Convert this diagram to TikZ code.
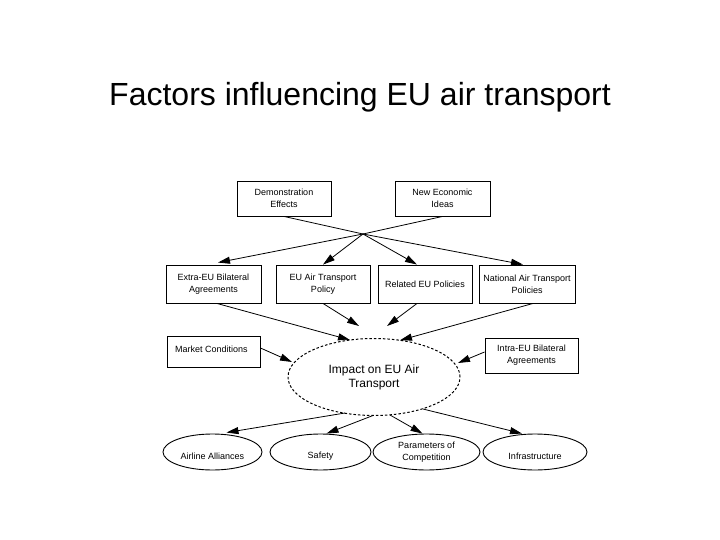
\documentclass[tikz,border=0pt]{standalone}
\usepackage{fontspec}
\setmainfont{Liberation Sans}
\usetikzlibrary{arrows.meta,shapes.geometric,calc}
\newcommand{\lowtxt}[1]{\raisebox{-4pt}[\height][\depth]{#1}}
\begin{document}
\begin{tikzpicture}[x=1pt,y=-1pt,
  box/.style={draw,line width=0.9pt,rectangle,inner sep=1pt,align=center,font=\fontsize{9}{12}\selectfont},
  oval/.style={draw,line width=0.9pt,ellipse,inner sep=0pt,align=center,font=\fontsize{9}{12}\selectfont},
  arr/.style={line width=0.8pt,-{Triangle[length=12pt,width=7pt]}},
  ln/.style={line width=0.8pt}]
\useasboundingbox (0,0) rectangle (720,540);
\node[font=\fontsize{32}{36}\selectfont,anchor=base] (title) at (360,106) {Factors influencing EU air transport};
% top boxes
\node[box,minimum width=94pt,minimum height=35pt] (demo) at (284,198.5) {Demonstration\\Effects};
\node[box,minimum width=95pt,minimum height=35pt] (neweco) at (442.5,198.5) {New Economic\\Ideas};
\coordinate (cross) at (363,234);
% second row
\node[box,minimum width=95pt,minimum height=38pt] (extra) at (213.5,284) {Extra-EU Bilateral\\Agreements};
\node[box,minimum width=94pt,minimum height=38pt] (euatp) at (323,284) {EU Air Transport\\Policy\vphantom{g}};
\node[box,minimum width=94pt,minimum height=38pt] (related) at (425,284) {Related EU Policies};
\node[box,minimum width=96pt,minimum height=38pt] (national) at (527,284) {National Air Transport\\Policies};
% side boxes
\node[box,minimum width=93pt,minimum height=31pt] (market) at (213.5,351.5) {};
\node[font=\fontsize{9}{12}\selectfont,anchor=west,inner sep=0pt] (markettxt) at (175,349) {Market Conditions};
\node[box,minimum width=93pt,minimum height=35pt] (intra) at (531.5,355.5) {Intra-EU Bilateral\\Agreements};
% central ellipse
\node[draw,ellipse,line width=1pt,dash pattern=on 2.5pt off 2pt,minimum width=172pt,minimum height=77pt,inner sep=0pt,align=center,font=\fontsize{12}{14}\selectfont] (impact) at (374,377) {Impact on EU Air\\Transport};
% bottom ellipses
\node[oval,minimum width=99pt,minimum height=36pt] (alliances) at (212.5,452) {\lowtxt{Airline Alliances}};
\node[oval,minimum width=101pt,minimum height=36pt] (safety) at (320.5,452) {\lowtxt{Safety}};
\node[oval,minimum width=107pt,minimum height=36pt] (params) at (426.5,452) {Parameters of\\Competition};
\node[oval,minimum width=104pt,minimum height=36pt] (infra) at (535,452) {\lowtxt{Infrastructure}};
% top connectors
\draw[ln] (demo.south) -- (cross);
\draw[ln] (neweco.south) -- (cross);
\draw[arr] (cross) -- ($(extra.north)+(4.5,-2)$);
\draw[arr] (cross) -- (euatp.north);
\draw[arr] (cross) -- ($(related.north)+(-8,0)$);
\draw[arr] (cross) -- ($(national.north)+(-4,0)$);
% into impact
\draw[arr] ($(extra.south)+(3.5,0)$) -- ($(impact.center)+(-24,-37)$);
\draw[arr] (euatp.south) -- ($(impact.center)+(-15,-51)$);
\draw[arr] ($(related.south)+(-8,0)$) -- ($(impact.center)+(13,-51)$);
\draw[arr] ($(national.south)+(6,0)$) -- ($(impact.center)+(26,-36.7)$);
\draw[arr] ($(market.east)+(0,-3.5)$) -- ($(impact.center)+(-82,-15)$);
\draw[arr] ($(intra.west)+(0,-3.5)$) -- ($(impact.center)+(84,-14)$);
% out of impact
\draw[arr] ($(impact.center)+(-29,36)$) -- ($(alliances.north)+(14,-1)$);
\draw[arr] ($(impact.center)+(-1,38.5)$) -- ($(safety.north)+(6,0)$);
\draw[arr] ($(impact.center)+(16,38)$) -- ($(params.north)+(-4,0)$);
\draw[arr] ($(impact.center)+(49,32)$) -- ($(infra.north)+(-13,0)$);
\end{tikzpicture}
\end{document}
